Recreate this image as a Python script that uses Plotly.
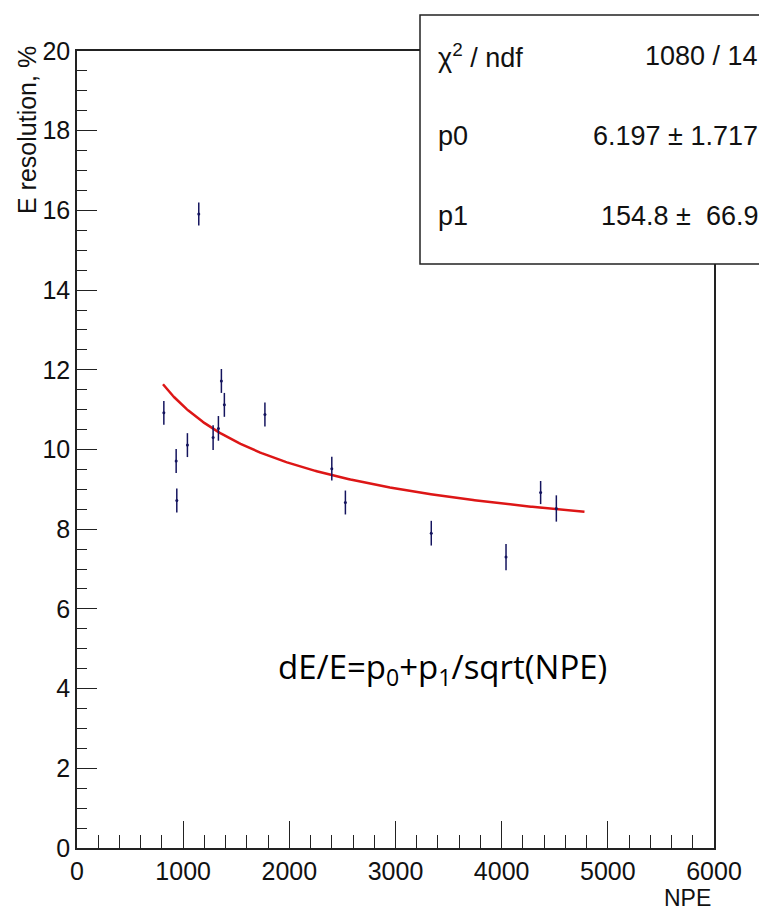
import numpy as np
import plotly.graph_objects as go

# Data
npe = [818, 934, 940, 1040, 1147, 1282, 1332, 1360, 1388, 1770, 2400, 2528, 3337, 4041, 4367, 4515]
eres = [10.92, 9.71, 8.72, 10.11, 15.91, 10.30, 10.53, 11.72, 11.12, 10.88, 9.52, 8.67, 7.90, 7.30, 8.92, 8.52]
eres_err = [0.30, 0.30, 0.30, 0.30, 0.29, 0.31, 0.31, 0.30, 0.30, 0.30, 0.30, 0.30, 0.31, 0.33, 0.29, 0.33]

# Fit parameters (from stats box)
p0, p0_err = 6.197, 1.717
p1, p1_err = 154.8, 66.9
chi2, ndf = 1080, 14
fit_min, fit_max = 810, 4780

x_ticks = [0, 1000, 2000, 3000, 4000, 5000, 6000]
y_ticks = [0, 2, 4, 6, 8, 10, 12, 14, 16, 18, 20]

W, H = 767, 910
L, R, T, B = 69, 706, 43, 840  # plot area in pixels


def px(xp):
    return (xp - L) / (R - L)


def py(yp):
    return (B - yp) / (B - T)


FONT = "Liberation Sans, Arial, Helvetica, sans-serif"

fit_x = np.linspace(fit_min, fit_max, 300)
fit_y = p0 + p1 / np.sqrt(fit_x)

fig = go.Figure()
fig.add_trace(go.Scatter(
    x=fit_x, y=fit_y, mode="lines",
    line=dict(color="#dd1616", width=2.5), hoverinfo="skip", showlegend=False,
))
fig.add_trace(go.Scatter(
    x=npe, y=eres, mode="markers",
    marker=dict(color="#14145e", size=3, symbol="circle"),
    error_y=dict(type="data", array=eres_err, visible=True, color="#14145e",
                 thickness=1.5, width=0),
    showlegend=False,
))

axis_common = dict(
    showgrid=False, zeroline=False, showline=True, linecolor="#222222",
    linewidth=1.5, mirror=True, ticks="inside", tickcolor="#222222",
    tickwidth=1.2, tickfont=dict(family=FONT, size=25, color="#111111"),
)
fig.update_xaxes(
    range=[0, 6000], tickvals=x_ticks, ticktext=[str(v) for v in x_ticks],
    ticklen=27, minor=dict(ticks="inside", ticklen=13, dtick=200,
                           tickcolor="#222222", tickwidth=1.2),
    **axis_common,
)
fig.update_yaxes(
    range=[0, 20], tickvals=y_ticks, ticktext=[str(v) for v in y_ticks],
    ticklen=20, minor=dict(ticks="inside", ticklen=10, dtick=0.5,
                           tickcolor="#222222", tickwidth=1.2),
    **axis_common,
)

# Stats box
fig.add_shape(type="rect", xref="paper", yref="paper",
              x0=px(412), x1=px(790), y0=py(256), y1=py(7),
              line=dict(color="#222222", width=1.5), fillcolor="white",
              layer="above")

rows = [
    ("\u03c7<sup>2</sup> / ndf", f"{chi2} / {ndf}", 48),
    ("p0", f"{p0:.3f} \u00b1 {p0_err:.3f}", 128),
    ("p1", f"{p1:.1f} \u00b1&nbsp; {p1_err:.1f}", 208),
]
annotations = []
for left, right, yc in rows:
    annotations.append(dict(x=px(428), y=py(yc), xref="paper", yref="paper",
                            text=left, showarrow=False, xanchor="left",
                            yanchor="middle",
                            font=dict(family=FONT, size=27, color="#111111")))
    annotations.append(dict(x=px(752), y=py(yc), xref="paper", yref="paper",
                            text=right, showarrow=False,
                            xanchor="right", yanchor="middle",
                            font=dict(family=FONT, size=27, color="#111111")))

# Axis titles
annotations.append(dict(x=px(19), y=py(36), xref="paper", yref="paper",
                        text="E resolution, %", textangle=-90, showarrow=False,
                        xanchor="center", yanchor="top",
                        font=dict(family=FONT, size=25, color="#111111")))
annotations.append(dict(x=px(704), y=py(904), xref="paper", yref="paper",
                        text="NPE", showarrow=False, xanchor="right",
                        yanchor="bottom", borderpad=0,
                        font=dict(family=FONT, size=23, color="#111111")))

# Formula label
annotations.append(dict(x=px(434), y=py(660), xref="paper", yref="paper",
                        text="dE/E=p<sub>0</sub>+p<sub>1</sub>/sqrt(NPE)",
                        showarrow=False, xanchor="center", yanchor="middle",
                        font=dict(family="Open Sans, Noto Sans, sans-serif",
                                  size=33, color="#000000")))

fig.update_layout(
    width=W, height=H,
    margin=dict(l=L, r=W - R, t=T, b=H - B, pad=0),
    paper_bgcolor="white", plot_bgcolor="white",
    annotations=annotations,
    showlegend=False,
)

fig.write_html("out.html")
